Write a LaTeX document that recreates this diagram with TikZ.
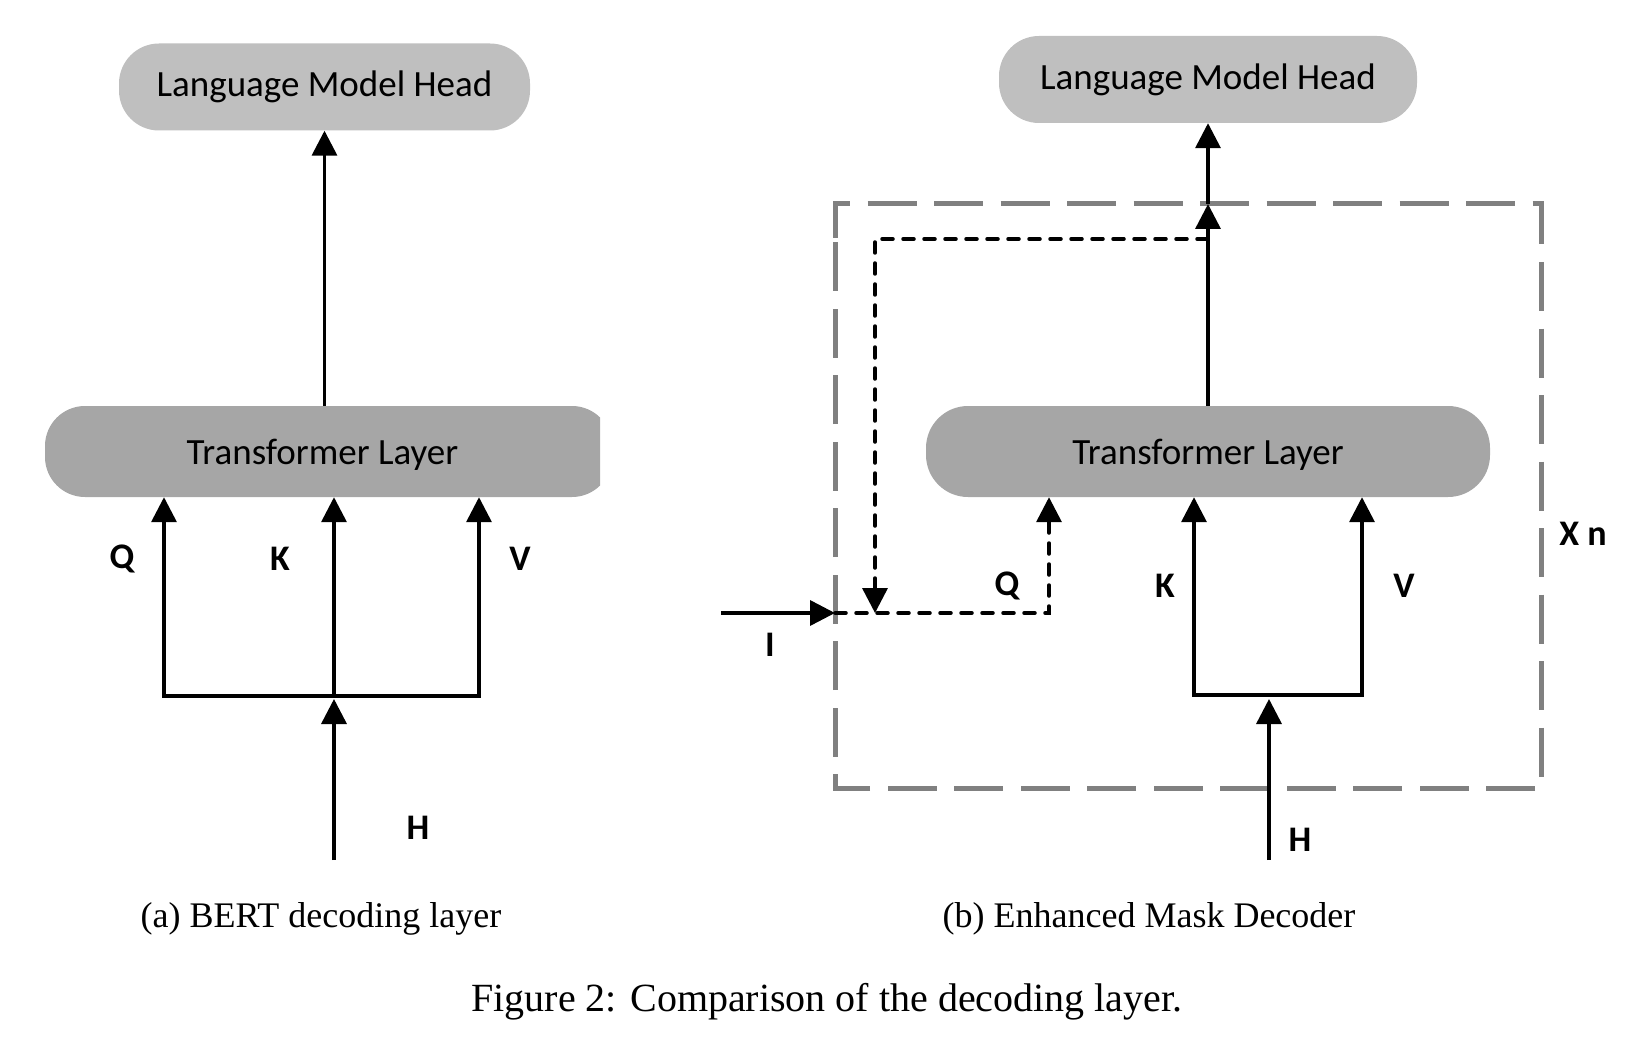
\documentclass[tikz,border=0pt]{standalone}
\usepackage{fontspec}
\setmainfont{Liberation Serif}
\newfontfamily\calfont{Carlito}
\usetikzlibrary{arrows.meta}
\definecolor{lmgray}{HTML}{BFBFBF}
\definecolor{tgray}{HTML}{A6A6A6}
\definecolor{boxgray}{HTML}{808080}
\begin{document}
\begin{tikzpicture}[x=1pt,y=-1pt,
  lmbox/.style={fill=lmgray, rounded corners=40pt, minimum height=87pt, inner sep=0pt,
    font=\calfont\fontsize{37}{40}\selectfont},
  tbox/.style={minimum height=91pt, inner sep=0pt, text height=34pt, text depth=8pt,
    font=\calfont\fontsize{37}{40}\selectfont},
  ln/.style={line width=3.5pt, line join=miter},
  arr/.style={ln, -{Triangle[length=25pt,width=25pt]}},
  darr/.style={line width=3.5pt, dash pattern=on 11pt off 10pt, line cap=round,
    -{Triangle[length=25pt,width=25pt]}},
  boxdash/.style={draw=boxgray, line width=5pt, dash pattern=on 49pt off 17.5pt},
  lbl/.style={inner sep=0pt, font=\calfont\bfseries\fontsize{36}{40}\selectfont},
  capt/.style={inner sep=0pt, anchor=base, font=\fontsize{36}{42}\selectfont},
]
\useasboundingbox (0,0) rectangle (1630,1059);

% ---------- (a) BERT decoding layer ----------
\node[lmbox, minimum width=411pt] (lmL) at (324.5,87) {Language Model Head};
\begin{scope}
  \clip (0,380) rectangle (600,520);
  \fill[tgray, rounded corners=40pt] (45,406) rectangle (612,497);
\end{scope}
\node[tbox, minimum width=555pt] (tlL) at (322.5,451.5) {Transformer Layer};

\coordinate (qLb) at (164,696);
\coordinate (kLb) at (334,696);
\coordinate (vLb) at (479,696);
\coordinate (hL) at (334,860);
\coordinate (hLt) at (334,699);

\draw[arr] (tlL.north -| lmL.south) -- (lmL.south);
\draw[arr] (vLb) -- (qLb) -- (tlL.south -| qLb);
\draw[arr] (qLb) -- (vLb) -- (tlL.south -| vLb);
\draw[arr] (kLb) -- (tlL.south -| kLb);
\draw[arr] (hL) -- (hLt);

\node[lbl] (lQL) at (122,559) {Q};
\node[lbl] (lKL) at (280,559) {K};
\node[lbl] (lVL) at (520,559) {V};
\node[lbl] (lHL) at (418,828) {H};

% ---------- (b) Enhanced Mask Decoder ----------
\draw[boxdash] (835,238) -- (835,204) -- (1541,204) -- (1541,788) -- (835,788) -- cycle;

\node[lmbox, minimum width=418pt] (lmR) at (1208,79.5) {Language Model Head};
\node[tbox, fill=tgray, rounded corners=42pt, minimum width=564pt] (tlR) at (1208,451.5) {Transformer Layer};

\coordinate (mid) at (1208,204);
\coordinate (fb) at (1208,239);
\coordinate (qin) at (875,613);
\coordinate (iin) at (835,613);
\coordinate (istart) at (721,613);
\coordinate (qRx) at (1049,613);
\coordinate (kRb) at (1194,695);
\coordinate (vRb) at (1362,695);
\coordinate (hR) at (1269,860);
\coordinate (hRt) at (1269,699);

\draw[arr] (tlR.north) -- (mid);
\draw[arr] (mid) -- (lmR.south);
\draw[darr] (fb) -| (qin);
\draw[arr] (istart) -- (iin);
\draw[darr] (iin) -| (tlR.south -| qRx);
\draw[arr] (vRb) -- (kRb) -- (tlR.south -| kRb);
\draw[arr] (kRb) -- (vRb) -- (tlR.south -| vRb);
\draw[arr] (hR) -- (hRt);

\node[lbl] (lQR) at (1007,586) {Q};
\node[lbl] (lKR) at (1165,586) {K};
\node[lbl] (lVR) at (1404,586) {V};
\node[lbl] (lHR) at (1300,840) {H};
\node[lbl] (lIR) at (770,645) {I};
\node[lbl] (lXn) at (1583,534) {X n};

% ---------- captions ----------
\node[capt] (capA) at (321,927) {(a) BERT decoding layer};
\node[capt] (capB) at (1149,927) {(b) Enhanced Mask Decoder};
\node[capt, font=\fontsize{40}{46}\selectfont] (capF) at (827,1011) {Figure 2: Comparison of the decoding layer.};
\end{tikzpicture}
\end{document}
